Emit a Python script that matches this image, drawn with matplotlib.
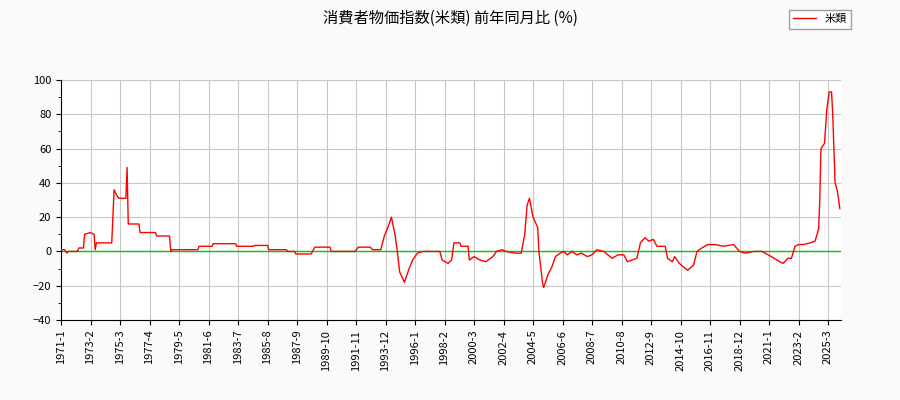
import matplotlib
matplotlib.use("Agg")
import matplotlib.pyplot as plt
from matplotlib.ticker import MultipleLocator

plt.rcParams['font.family'] = ['Noto Sans CJK JP', 'DejaVu Sans']

title = "消費者物価指数(米類) 前年同月比 (%)"
series_name = "米類"

# month index since 1971-1, value (%)
month_idx = [0, 3, 5, 6, 14, 15, 19, 20, 25, 28, 29, 30, 43, 44, 45, 47, 49, 55, 56, 57,
             66, 67, 80, 81, 92, 93, 94, 116, 117, 128, 129, 148, 149, 163, 164, 175, 176,
             191, 192, 198, 199, 212, 215, 228, 229, 249, 252, 262, 264, 271, 274, 277, 280,
             283, 285, 287, 291, 295, 298, 302, 307, 315, 321, 323, 328, 331, 333, 338, 339,
             345, 346, 350, 355, 360, 366, 369, 374, 377, 385, 390, 393, 395, 397, 400, 404,
             405, 408, 409, 413, 416, 419, 423, 426, 429, 433, 437, 441, 446, 450, 454, 460,
             467, 472, 477, 480, 484, 488, 491, 495, 498, 502, 505, 512, 514, 518, 520, 524,
             531, 536, 539, 543, 548, 555, 561, 570, 575, 580, 587, 594, 602, 609, 612, 616,
             619, 622, 625, 629, 635, 639, 642, 643, 644, 647, 649, 651, 653, 654, 656, 658, 660]
values = [1, 1, -1, 0, 0, 2, 2, 10, 11, 10, 1, 5, 5, 20, 36, 33, 31, 31, 49, 16,
          16, 11, 11, 9, 9, 0, 1, 1, 3, 3, 4.5, 4.5, 3, 3, 3.5, 3.5, 1,
          1, 0, 0, -1.5, -1.5, 2.5, 2.5, 0, 0, 2.5, 2.5, 1, 1, 9, 14, 20,
          10, 0, -12, -18, -10, -5, -1, 0, 0, 0, -5, -7, -5, 5, 5, 3,
          3, -5, -3, -5, -6, -3, 0, 1, 0, -1, -1, 10, 27, 31, 20, 14,
          0, -18, -21, -13, -9, -3, -1, 0, -2, 0, -2, -1, -3, -2, 1, 0,
          -4, -2, -2, -6, -5, -4, 5, 8, 6, 7, 3, 3, -4, -6, -3, -7,
          -11, -8, 0, 2, 4, 4, 3, 4, 0, -1, 0, 0, -3, -6, -7, -4,
          -4, 3, 4, 4, 5, 6, 13, 30, 60, 63, 83, 93, 93, 80, 40, 35, 25]

tick_pos = list(range(0, 651, 25))
tick_labels = ["1971-1", "1973-2", "1975-3", "1977-4", "1979-5", "1981-6", "1983-7",
               "1985-8", "1987-9", "1989-10", "1991-11", "1993-12", "1996-1", "1998-2",
               "2000-3", "2002-4", "2004-5", "2006-6", "2008-7", "2010-8", "2012-9",
               "2014-10", "2016-11", "2018-12", "2021-1", "2023-2", "2025-3"]

fig = plt.figure(figsize=(9, 4), dpi=100, facecolor="#fafafa")
ax = fig.add_axes([61/900, 80/400, 780/900, 240/400], facecolor="white")
ax.axhline(0, color="#00cc00", lw=1, zorder=2)
ax.plot(month_idx, values, color="red", lw=1, label=series_name, zorder=3)
ax.set_xlim(0, 661)
ax.set_ylim(-40, 100)
ax.yaxis.set_major_locator(MultipleLocator(20))
ax.yaxis.set_minor_locator(MultipleLocator(10))
ax.set_xticks(tick_pos)
ax.set_xticklabels(tick_labels, rotation=90, fontsize=8)
ax.tick_params(axis="y", labelsize=8)
ax.grid(True, color="#c8c8c8", lw=0.8)
ax.set_axisbelow(True)
for s in ["top", "right"]:
    ax.spines[s].set_visible(False)
fig.suptitle(title, x=0.5, y=0.975, fontsize=11)
fig.legend(loc="upper right", bbox_to_anchor=(0.952, 0.99), fontsize=8,
           frameon=True, fancybox=False, edgecolor="#888888")
fig.savefig("out.png", dpi=100, facecolor=fig.get_facecolor())
